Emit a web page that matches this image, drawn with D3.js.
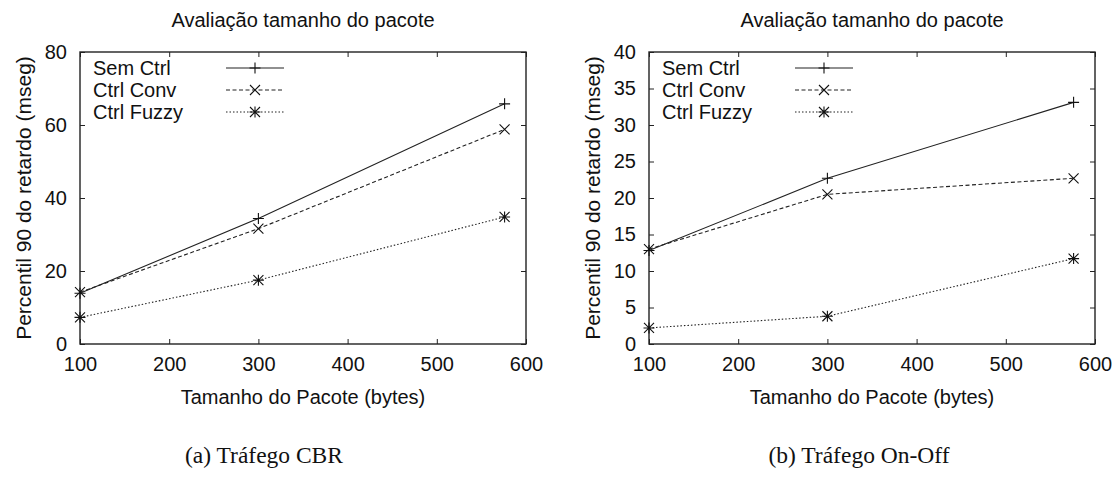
<!DOCTYPE html>
<html>
<head>
<meta charset="utf-8">
<script src="https://cdn.jsdelivr.net/npm/d3@7"></script>
<style>
  body { margin: 0; background: #fff; }
  svg text { font-family: "Liberation Sans", Arial, sans-serif; fill: #111; }
  .caption { font-family: "Liberation Serif", "Times New Roman", serif; }
</style>
</head>
<body>
<div id="vis"></div>
<script>
const width = 1117;
const height = 481;

// Data
const packetSizes = [100, 300, 576];
const seriesNames = ["Sem Ctrl", "Ctrl Conv", "Ctrl Fuzzy"];

const cbrSemCtrl = [13.9, 34.4, 65.8];
const cbrCtrlConv = [14.2, 31.6, 58.8];
const cbrCtrlFuzzy = [7.3, 17.5, 34.8];

const onoffSemCtrl = [12.8, 22.7, 33.1];
const onoffCtrlConv = [13.0, 20.5, 22.7];
const onoffCtrlFuzzy = [2.2, 3.8, 11.7];

const xTicks = [100, 200, 300, 400, 500, 600];
const cbrYTicks = [0, 20, 40, 60, 80];
const onoffYTicks = [0, 5, 10, 15, 20, 25, 30, 35, 40];

const titleText = "Avaliação tamanho do pacote";
const xLabelText = "Tamanho do Pacote (bytes)";
const yLabelText = "Percentil 90 do retardo (mseg)";
const captions = ["(a) Tráfego CBR", "(b) Tráfego On-Off"];

// line styles per series: solid, dashed, dotted; markers +, x, *
const dashes = [null, "4,2.5", "1.5,2"];
const markers = ["plus", "cross", "star"];

const svg = d3.select("#vis").append("svg")
  .attr("width", width)
  .attr("height", height)
  .style("display", "block");

svg.append("rect").attr("width", width).attr("height", height).attr("fill", "#fff");

function markerPath(type) {
  const p = d3.path();
  const s = 5.5, c = 5;
  if (type === "plus" || type === "star") {
    p.moveTo(-s, 0); p.lineTo(s, 0);
    p.moveTo(0, -s); p.lineTo(0, s);
  }
  if (type === "cross" || type === "star") {
    p.moveTo(-c, -c); p.lineTo(c, c);
    p.moveTo(-c, c); p.lineTo(c, -c);
  }
  return p.toString();
}

function drawPanel(left, series, yMax, yTicks, caption, captionX) {
  const top = 52, plotW = 446, plotH = 292;
  const g = svg.append("g").attr("transform", `translate(${left},${top})`);

  const x = d3.scaleLinear().domain([100, 600]).range([0, plotW]);
  const y = d3.scaleLinear().domain([0, yMax]).range([plotH, 0]);

  // axes with inward ticks, mirrored on top and right
  const styleAxis = sel => {
    sel.select(".domain").remove();
    sel.selectAll("line").attr("stroke", "#222");
    sel.selectAll("text").style("font-size", "20px").attr("fill", "#111");
  };

  g.append("g").attr("transform", `translate(0,${plotH})`)
    .call(d3.axisBottom(x).tickValues(xTicks).tickSizeInner(-5).tickSizeOuter(0).tickPadding(13))
    .call(styleAxis);
  g.append("g")
    .call(d3.axisTop(x).tickValues(xTicks).tickSizeInner(-5).tickSizeOuter(0).tickFormat(""))
    .call(styleAxis);
  g.append("g")
    .call(d3.axisLeft(y).tickValues(yTicks).tickSizeInner(-5).tickSizeOuter(0).tickPadding(13))
    .call(styleAxis);
  g.append("g").attr("transform", `translate(${plotW},0)`)
    .call(d3.axisRight(y).tickValues(yTicks).tickSizeInner(-5).tickSizeOuter(0).tickFormat(""))
    .call(styleAxis);

  g.append("rect")
    .attr("width", plotW).attr("height", plotH)
    .attr("fill", "none").attr("stroke", "#222").attr("stroke-width", 1.4);

  const line = d3.line().x(d => x(d[0])).y(d => y(d[1]));

  series.forEach((vals, i) => {
    const pts = packetSizes.map((p, j) => [p, vals[j]]);
    g.append("path")
      .attr("d", line(pts))
      .attr("fill", "none")
      .attr("stroke", "#222")
      .attr("stroke-width", 1.1)
      .attr("stroke-dasharray", dashes[i]);
    g.selectAll(null).data(pts).enter().append("path")
      .attr("transform", d => `translate(${x(d[0])},${y(d[1])})`)
      .attr("d", markerPath(markers[i]))
      .attr("fill", "none")
      .attr("stroke", "#111")
      .attr("stroke-width", 1.1);
  });

  // legend
  const lg = g.append("g");
  seriesNames.forEach((name, i) => {
    const ly = 16 + i * 22;
    lg.append("text")
      .attr("x", 13).attr("y", ly).attr("dy", "0.35em")
      .style("font-size", "20px")
      .text(name);
    lg.append("line")
      .attr("x1", 146).attr("x2", 204).attr("y1", ly).attr("y2", ly)
      .attr("stroke", "#222").attr("stroke-width", 1.1)
      .attr("stroke-dasharray", dashes[i]);
    lg.append("path")
      .attr("transform", `translate(175,${ly})`)
      .attr("d", markerPath(markers[i]))
      .attr("fill", "none").attr("stroke", "#111").attr("stroke-width", 1.1);
  });

  // title and axis labels
  g.append("text")
    .attr("x", plotW / 2).attr("y", -32).attr("dy", "0.35em")
    .attr("text-anchor", "middle")
    .style("font-size", "20px")
    .text(titleText);
  g.append("text")
    .attr("x", plotW / 2).attr("y", plotH + 53).attr("dy", "0.35em")
    .attr("text-anchor", "middle")
    .style("font-size", "20px")
    .text(xLabelText);
  g.append("text")
    .attr("transform", `translate(-56,${plotH / 2}) rotate(-90)`)
    .attr("dy", "0.35em")
    .attr("text-anchor", "middle")
    .style("font-size", "21px")
    .text(yLabelText);

  svg.append("text")
    .attr("class", "caption")
    .attr("x", captionX).attr("y", 455).attr("dy", "0.35em")
    .attr("text-anchor", "middle")
    .style("font-size", "23.5px")
    .text(caption);
}

drawPanel(80, [cbrSemCtrl, cbrCtrlConv, cbrCtrlFuzzy], 80, cbrYTicks, captions[0], 264);
drawPanel(649, [onoffSemCtrl, onoffCtrlConv, onoffCtrlFuzzy], 40, onoffYTicks, captions[1], 859);
</script>
</body>
</html>
